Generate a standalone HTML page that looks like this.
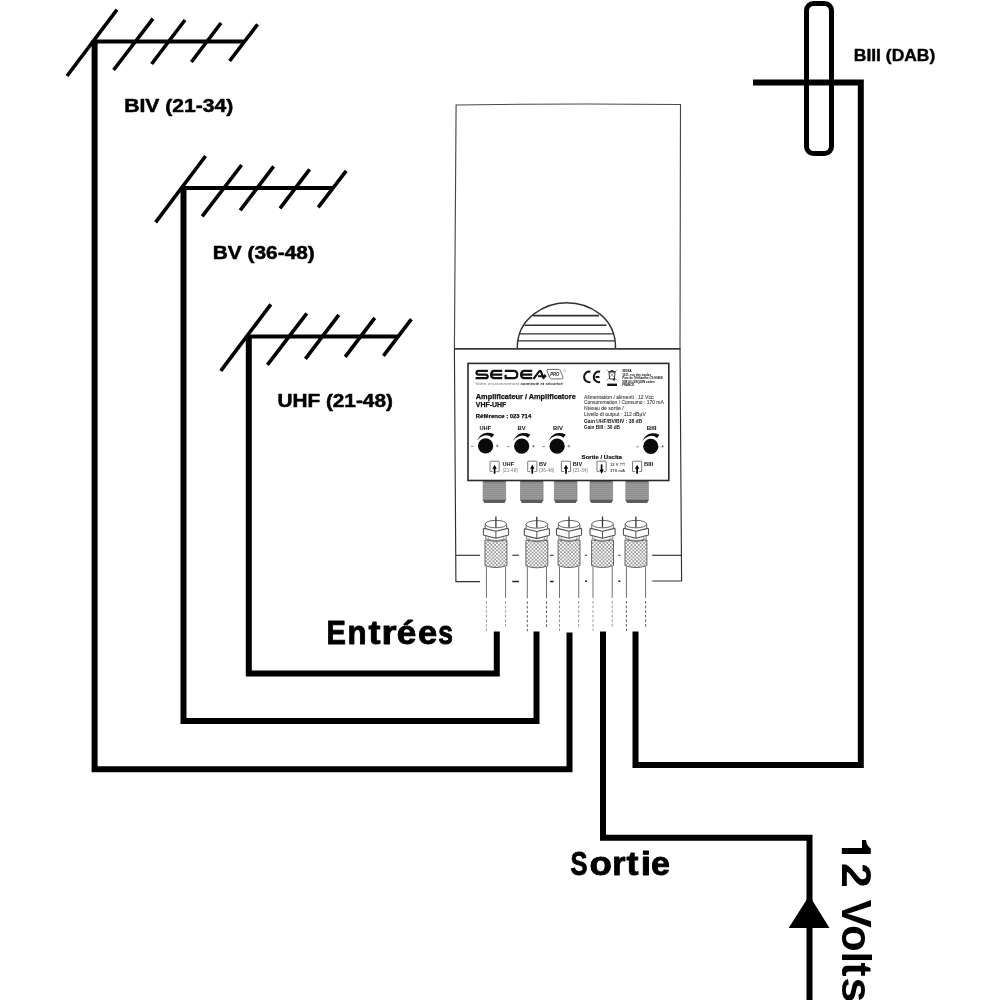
<!DOCTYPE html>
<html>
<head>
<meta charset="utf-8">
<title>Schema amplificateur</title>
<style>
html,body{margin:0;padding:0;background:#fff;}
body{width:1000px;height:1000px;overflow:hidden;font-family:"Liberation Sans",sans-serif;}
svg{will-change:transform;display:block;position:absolute;left:0;top:0;}
text{font-family:"Liberation Sans",sans-serif;}
.b{font-weight:bold;}
</style>
</head>
<body>
<svg width="1000" height="1000" viewBox="0 0 1000 1000">
<defs>
  <!-- antenna (origin = mast/boom junction) -->
  <g id="ant" stroke="#000" fill="none">
    <line x1="-1" y1="0" x2="149" y2="0" stroke-width="4"/>
    <line x1="-27.6" y1="34.4" x2="22.4" y2="-32" stroke-width="3.6"/>
    <line x1="19" y1="28.4" x2="58.4" y2="-23" stroke-width="3.6"/>
    <line x1="57" y1="22.4" x2="90.4" y2="-21.6" stroke-width="3.6"/>
    <line x1="96.8" y1="20.4" x2="126.4" y2="-18.6" stroke-width="3.6"/>
    <line x1="135" y1="19.4" x2="163" y2="-17.2" stroke-width="3.6"/>
  </g>

  <!-- knob: origin = circle centre -->
  <g id="knob">
    <circle cx="0" cy="0" r="7.6" fill="#0a0a0a"/>
    <path d="M-8.6 -5.3 C-6.2 -10.4 -1.8 -13.1 1.6 -13.1 Q5.2 -13.2 8.7 -11.7 L6.3 -8.5 Q3.6 -10.5 0.6 -10.6 C-2.6 -10.5 -6 -8.8 -8.6 -5.3 Z" fill="#0a0a0a"/>
    <path d="M-14.6 0.4 H-12.2" stroke="#777" stroke-width="0.9"/>
    <path d="M10.4 0 H13 M11.7 -1.3 V1.3" stroke="#777" stroke-width="0.9"/>
  </g>
  <!-- connector icon box with up arrow: origin = box top-left -->
  <g id="icoUp">
    <path d="M2.6 10.4 H0.6 Q0 10.4 0 9.8 V0.6 Q0 0 0.6 0 H8.6 Q9.2 0 9.2 0.6 V9.8 Q9.2 10.4 8.6 10.4 H6.6" fill="none" stroke="#444" stroke-width="0.7"/>
    <path d="M4.6 12.5 V6.4" stroke="#000" stroke-width="1.7" fill="none"/>
    <path d="M4.6 3.5 L6.8 7.6 H2.4 Z" fill="#000"/>
  </g>
  <g id="icoDown">
    <path d="M2.6 10.4 H0.6 Q0 10.4 0 9.8 V0.6 Q0 0 0.6 0 H8.6 Q9.2 0 9.2 0.6 V9.8 Q9.2 10.4 8.6 10.4 H6.6" fill="none" stroke="#444" stroke-width="0.7"/>
    <path d="M4.6 3.2 V9.4" stroke="#000" stroke-width="1.7" fill="none"/>
    <path d="M4.6 12.5 L6.8 8.4 H2.4 Z" fill="#000"/>
  </g>
  <!-- thread pattern for F sockets -->
  <pattern id="thread" width="4" height="2" patternUnits="userSpaceOnUse">
    <rect width="4" height="2" fill="#828282"/>
    <rect y="0.8" width="4" height="1" fill="#a8a8a8"/>
  </pattern>
  
  <!-- F socket: origin = top centre -->
  <g id="sock">
    <path d="M-11.3 0 H11.3 V19.4 L9.9 21.8 H-9.9 L-11.3 19.4 Z" fill="url(#thread)"/>
    <path d="M-11.3 0 H11.3 V1 H-11.3 Z" fill="#444"/>
    <path d="M-11.3 18.6 H11.3 V19.4 L9.9 21.8 H-9.9 L-11.3 19.4 Z" fill="#5c5c5c"/>
    <path d="M-11.3 0 V19.4 M11.3 0 V19.4" stroke="#777" stroke-width="0.6" fill="none"/>
  </g>
  <!-- knurl pattern -->
  <pattern id="knurl" width="3.6" height="3.6" patternUnits="userSpaceOnUse" x="0.2" y="0.6">
    <rect width="3.6" height="3.6" fill="#fff"/>
    <rect x="0" y="0" width="1.8" height="1.8" fill="#9c9c9c"/>
    <rect x="1.8" y="1.8" width="1.8" height="1.8" fill="#9c9c9c"/>
  </pattern>
  <!-- F plug: origin = pin x, y=0 at pin top -->
  <g id="plug" fill="none" stroke="#555" stroke-width="0.9">
    <!-- cable -->
    <path d="M-9.5 50.2 V81.5 M9.7 50.2 V81.5" stroke="#707070" stroke-width="1"/>
    <path d="M-9.5 84.5 V114.5 M9.7 84.5 V111.5" stroke="currentColor" stroke-width="0.9" stroke-dasharray="2.6 2"/>
    <!-- knurled sleeve -->
    <path d="M-10.9 23.4 Q0 26.4 11 23.4 V49.1 Q0 53 -10.9 49.1 Z" fill="url(#knurl)" stroke="#666" stroke-width="1"/>
    <!-- ring under nut -->
    <path d="M-10.2 19 V22.2 Q0 25.8 10.3 22.2 V19" fill="#fff" stroke="#666" stroke-width="0.8"/>
    <path d="M-7.6 20 V23.2 M7.7 20 V23.2" stroke="#888" stroke-width="0.6"/>
    <!-- top barrel -->
    <path d="M-10.7 7.6 V12.6 M10.8 7.6 V12.6"/>
    <ellipse cx="0" cy="7.6" rx="10.75" ry="3.75" fill="#fff"/>
    <!-- hex nut -->
    <path d="M-11.8 11.9 Q-12.5 11.8 -12.5 12.6 V17.8 Q-12.5 18.5 -11.8 18.7 L0 21.8 L11.9 18.7 Q12.6 18.5 12.6 17.8 V12.6 Q12.6 11.8 11.9 11.9 L0 14.7 Z" fill="#fff" stroke="#505050" stroke-width="1.1" stroke-linejoin="round"/>
    <path d="M0 14.7 V21.8" stroke="#555" stroke-width="1"/>
    <!-- pin -->
    <path d="M0 0 V10.9" stroke="#333" stroke-width="1.3"/>
  </g>
</defs>

<!-- ===== ANTENNAS ===== -->
<use href="#ant" x="94.6" y="41.6"/>
<use href="#ant" x="183.2" y="188"/>
<use href="#ant" x="248.4" y="336.4"/>

<!-- ===== THICK WIRES ===== -->
<g fill="none" stroke="#000" stroke-width="6" stroke-linejoin="miter">
  <path d="M94.6 40 V769.3 H569.5 V632.5"/>
  <path d="M183.5 186.5 V721 H536.5 V631.5"/>
  <path d="M248.8 335 V673.5 H496.8 V631.5"/>
  <path d="M603 631.5 V837.7 H809.5 V1000"/>
  <path d="M635.5 631.5 V765 H860.8 V82.6 H753"/>
</g>
<!-- arrow -->
<path d="M809.3 895.5 L829.5 928 L788.7 928 Z" fill="#000"/>

<!-- BIII antenna -->
<rect x="806.5" y="3.5" width="25" height="150" rx="7" ry="7" fill="none" stroke="#000" stroke-width="5"/>

<!-- ===== BIG LABELS ===== -->
<g class="b" fill="#000">
  <text x="124.2" y="111.9" stroke="#000" stroke-width="0.5" stroke-linejoin="round" font-size="18" textLength="109" lengthAdjust="spacingAndGlyphs">BIV (21-34)</text>
  <text x="212.8" y="259.4" stroke="#000" stroke-width="0.5" stroke-linejoin="round" font-size="18" textLength="102" lengthAdjust="spacingAndGlyphs">BV (36-48)</text>
  <text x="277.4" y="406.9" stroke="#000" stroke-width="0.5" stroke-linejoin="round" font-size="18" textLength="115.5" lengthAdjust="spacingAndGlyphs">UHF (21-48)</text>
  <text x="853.8" y="61" stroke="#000" stroke-width="0.4" stroke-linejoin="round" font-size="15.8" textLength="81.5" lengthAdjust="spacingAndGlyphs">BIII (DAB)</text>
  <text transform="translate(326.61 644.4) scale(0.888 1)" font-size="32.7" stroke="#000" stroke-width="0.9" stroke-linejoin="round">E</text>
  <text transform="translate(347.59 644.4) scale(0.956 1)" font-size="32.7" stroke="#000" stroke-width="0.9" stroke-linejoin="round">n</text>
  <text transform="translate(368.41 644.4) scale(1.100 1)" font-size="32.7" stroke="#000" stroke-width="0.9" stroke-linejoin="round">t</text>
  <text transform="translate(381.50 644.4) scale(1.181 1)" font-size="32.7" stroke="#000" stroke-width="0.9" stroke-linejoin="round">r</text>
  <text transform="translate(396.77 644.4) scale(1.077 1)" font-size="32.7" stroke="#000" stroke-width="0.9" stroke-linejoin="round">é</text>
  <text transform="translate(417.90 644.4) scale(1.058 1)" font-size="32.7" stroke="#000" stroke-width="0.9" stroke-linejoin="round">e</text>
  <text transform="translate(438.32 644.4) scale(0.809 1)" font-size="32.7" stroke="#000" stroke-width="0.9" stroke-linejoin="round">s</text>
  <text transform="translate(570.51 874.9) scale(0.776 1)" font-size="32.9" stroke="#000" stroke-width="0.9" stroke-linejoin="round">S</text>
  <text transform="translate(589.62 874.9) scale(1.113 1)" font-size="32.9" stroke="#000" stroke-width="0.9" stroke-linejoin="round">o</text>
  <text transform="translate(612.20 874.9) scale(1.036 1)" font-size="32.9" stroke="#000" stroke-width="0.9" stroke-linejoin="round">r</text>
  <text transform="translate(626.61 874.9) scale(1.093 1)" font-size="32.9" stroke="#000" stroke-width="0.9" stroke-linejoin="round">t</text>
  <text transform="translate(640.65 874.9) scale(1.130 1)" font-size="32.9" stroke="#000" stroke-width="0.9" stroke-linejoin="round">i</text>
  <text transform="translate(650.92 874.9) scale(1.039 1)" font-size="32.9" stroke="#000" stroke-width="0.9" stroke-linejoin="round">e</text>
  <path d="M862 840 H866 Q866.6 846 870.8 848.4 V854 H841.8 V848 H862 Z" fill="#000"/>
  <text transform="translate(841.8 862.95) rotate(90) scale(1.058 1)" font-size="42.2">2</text>
  <text transform="translate(841.8 899.71) rotate(90) scale(0.997 1)" font-size="42.2">V</text>
  <text transform="translate(841.8 925.10) rotate(90) scale(1.032 1)" font-size="42.2">o</text>
  <text transform="translate(841.8 951.70) rotate(90) scale(0.950 0.945)" font-size="42.2">l</text>
  <text transform="translate(841.8 962.49) rotate(90) scale(0.998 1)" font-size="42.2">t</text>
  <text transform="translate(841.8 977.42) rotate(90) scale(1.066 1)" font-size="42.2">s</text>
</g>

<!-- ===== DEVICE ===== -->
<g id="device" fill="none" stroke="#303030" stroke-width="1.15">
  <!-- upper cover -->
  <path d="M454.4 348.9 L456.1 105 Q568 103.2 680.5 104.5 L680 348.9" stroke="#484848"/>
  <!-- divider -->
  <path d="M454 348.9 H680.6" stroke-width="1.6" stroke="#3a3a3a"/>
  <!-- lower body sides -->
  <path d="M454.4 348.9 L455.9 581.6 H480.1"/>
  <path d="M455.8 555.3 H480.1"/>
  <path d="M680 348.9 L681.6 581 H652.2"/>
  <path d="M681.4 555.3 H652.2"/>
  <!-- dome -->
  <path d="M517.3 348 C517 318 545 302.7 566.5 302.7 C590 302.7 616 318 615.5 348" stroke-width="1.4"/>
  <path d="M533 315.7 H599" stroke-width="1.8"/>
  <path d="M524.5 325.3 H606.4" stroke-width="1.6"/>
  <path d="M519.3 333.9 H612.9" stroke-width="1.2"/>
  <path d="M517.5 340.9 H614.7" stroke-width="1.2"/>
</g>

<!-- label panel -->
<rect x="468" y="363.4" width="200.8" height="117.1" fill="#fff" stroke="#2a2a2a" stroke-width="1.6"/>

<!-- ===== LABEL CONTENT ===== -->
<g id="labelcontent">
  <!-- SEDEA logo -->
  <g fill="none" stroke="#111" stroke-width="2.2" stroke-linejoin="round">
    <path d="M487.9 370.9 H478.7 Q476.5 370.9 476.5 372.75 Q476.5 374.55 478.7 374.55 H485.4 Q487.7 374.55 487.7 376.4 Q487.7 378.2 485.4 378.2 H475.6"/>
    <path d="M502.2 370.9 H494.4 Q491.1 370.9 491.1 374.55 Q491.1 378.2 494.4 378.2 H502.2 M491.4 374.55 H502.2"/>
    <path d="M504.8 370.9 H513.6 Q517.3 370.9 517.3 374.55 Q517.3 378.2 513.6 378.2 H505.6 V374.8"/>
    <path d="M532.2 370.9 H524.4 Q521.1 370.9 521.1 374.55 Q521.1 378.2 524.4 378.2 H532.2 M521.4 374.55 H532.2"/>
    <path d="M533.4 379 L539.4 371.2 Q540.4 370.3 541 371.6 L543.9 379 M538 376.2 H546.2" stroke-width="2.1"/>
    <path d="M544.7 374.2 V377.8" stroke-width="1.2"/>
  </g>
  <!-- PRO badge -->
  <path d="M548.2 369.4 H558.6 Q559.8 369.4 560.3 370.5 L562.9 377.3 Q563.4 378.9 561.8 378.9 H551.6 Q550.3 378.9 549.8 377.7 L547 371 Q546.5 369.4 548.2 369.4 Z" fill="none" stroke="#333" stroke-width="0.7"/>
  <text x="550.2" y="376.3" font-size="4.8" font-weight="bold" font-style="italic" fill="#222" textLength="9.2" lengthAdjust="spacingAndGlyphs">PRO</text>
  <circle cx="564.6" cy="370.6" r="1" fill="none" stroke="#777" stroke-width="0.4"/>
  <!-- tagline -->
  <text x="475.4" y="385.2" font-size="4.2" fill="#777" textLength="44" lengthAdjust="spacingAndGlyphs">Votre environnement</text>
  <text x="520.4" y="385.2" font-size="4.2" font-weight="bold" fill="#222" textLength="42.4" lengthAdjust="spacingAndGlyphs">connecté et sécurisé</text>

  <!-- CE mark -->
  <g fill="none" stroke="#111" stroke-width="2">
    <path d="M590.4 371.7 A5.3 5.3 0 1 0 590.4 382.1"/>
    <path d="M600.1 371.7 A5.3 5.3 0 1 0 600.1 382.1 M595.6 376.9 H599.4"/>
  </g>
  <!-- WEEE bin -->
  <g fill="none" stroke="#222" stroke-width="0.9">
    <path d="M606.4 369.4 L617.4 380.6 M617.4 369.4 L606.4 380.6" stroke="#666" stroke-width="0.6"/>
    <path d="M609 372 H615 L614.4 379 H609.6 Z"/>
    <path d="M608.4 371.6 H615.6 M610.6 370.6 H613.4"/>
    <circle cx="614" cy="379.6" r="0.8"/>
  </g>
  <rect x="607.2" y="383.6" width="9.8" height="2.4" fill="#111"/>
  <!-- address -->
  <g font-size="3.4" font-weight="bold" fill="#111">
    <text x="622.2" y="372.4" textLength="10" lengthAdjust="spacingAndGlyphs">SEDEA,</text>
    <text x="622.2" y="375.8" textLength="29" lengthAdjust="spacingAndGlyphs">1011, rue des saules</text>
    <text x="622.2" y="379.2" textLength="40.4" lengthAdjust="spacingAndGlyphs">Parc de l'Hélianthe CS 80458</text>
    <text x="622.2" y="382.6" textLength="32.6" lengthAdjust="spacingAndGlyphs">59814 LESQUIN cedex</text>
    <text x="622.2" y="386" textLength="12" lengthAdjust="spacingAndGlyphs">FRANCE</text>
  </g>

  <!-- titles -->
  <g font-weight="bold" fill="#111" stroke="#111" stroke-width="0.25">
    <text x="475.8" y="398.8" font-size="6.9" textLength="100" lengthAdjust="spacingAndGlyphs">Amplificateur / Amplificatore</text>
    <text x="475.8" y="406.9" font-size="6.9" textLength="30.4" lengthAdjust="spacingAndGlyphs">VHF-UHF</text>
    <text x="475.8" y="417.6" font-size="6.2" textLength="55.4" lengthAdjust="spacingAndGlyphs">Référence : 023 714</text>
  </g>
  <!-- specs -->
  <g font-size="5.4" fill="#444" stroke="#444" stroke-width="0.1">
    <text x="584" y="398.7" textLength="69.6" lengthAdjust="spacingAndGlyphs">Alimentation / alimenti : 12 Vcc</text>
    <text x="584" y="404.4" textLength="79.8" lengthAdjust="spacingAndGlyphs">Consommation / Consumo : 170 mA</text>
    <text x="584" y="410.1" textLength="39.6" lengthAdjust="spacingAndGlyphs">Niveau de sortie /</text>
    <text x="584" y="416.3" textLength="61.8" lengthAdjust="spacingAndGlyphs">Livello di output : 112 dBµV</text>
    <text x="584" y="422.5" font-size="5" font-weight="bold" fill="#111" stroke="none" textLength="58.2" lengthAdjust="spacingAndGlyphs">Gain UHF/BV/BIV : 38 dB</text>
    <text x="584" y="428.6" font-size="5" font-weight="bold" fill="#111" stroke="none" textLength="36" lengthAdjust="spacingAndGlyphs">Gain BIII : 30 dB</text>
  </g>

  <!-- knob labels -->
  <g font-size="5.6" font-weight="bold" fill="#111">
    <text x="479.4" y="430.1" textLength="11.8" lengthAdjust="spacingAndGlyphs">UHF</text>
    <text x="517.4" y="430.1" textLength="8.2" lengthAdjust="spacingAndGlyphs">BV</text>
    <text x="553" y="430.1" textLength="9.8" lengthAdjust="spacingAndGlyphs">BIV</text>
    <text x="646.8" y="430.1" textLength="9.8" lengthAdjust="spacingAndGlyphs">BIII</text>
  </g>
</g>

<!-- knobs -->
<use href="#knob" x="485.6" y="445.9"/>
<use href="#knob" x="521.7" y="446.2"/>
<use href="#knob" x="557.1" y="446.2"/>
<use href="#knob" x="650.8" y="446.4"/>

<!-- Sortie / Uscita + icon row -->
<text x="581.6" y="458.9" font-size="6.2" font-weight="bold" fill="#111" stroke="#111" stroke-width="0.2" textLength="40.4" lengthAdjust="spacingAndGlyphs">Sortie / Uscita</text>
<use href="#icoUp" x="490" y="461.2"/>
<use href="#icoUp" x="527.7" y="461.2"/>
<use href="#icoUp" x="561.4" y="461.2"/>
<use href="#icoDown" x="597" y="461.2"/>
<use href="#icoUp" x="632.5" y="461.2"/>
<g font-size="5.3" font-weight="bold" fill="#111">
  <text x="502.5" y="466.1" textLength="11.6" lengthAdjust="spacingAndGlyphs">UHF</text>
  <text x="539" y="466.1" textLength="7.6" lengthAdjust="spacingAndGlyphs">BV</text>
  <text x="572.8" y="466.1" textLength="9.4" lengthAdjust="spacingAndGlyphs">BIV</text>
  <text x="644" y="466.1" textLength="9" lengthAdjust="spacingAndGlyphs">BIII</text>
</g>
<g font-size="4.6" fill="#7a7a7a">
  <text x="502.5" y="472.3" textLength="15.4" lengthAdjust="spacingAndGlyphs">(21-48)</text>
  <text x="539" y="472.3" textLength="15.4" lengthAdjust="spacingAndGlyphs">(36-48)</text>
  <text x="572.8" y="472.3" textLength="15.4" lengthAdjust="spacingAndGlyphs">(21-34)</text>
</g>
<g font-size="4.1" font-weight="bold" fill="#444">
  <text x="610" y="466" textLength="8.6" lengthAdjust="spacingAndGlyphs">12 V</text>
  <text x="610" y="471.6" textLength="15" lengthAdjust="spacingAndGlyphs">170 mA</text>
</g>
<path d="M620 463.4 H625 M620 465 H621.2 M621.9 465 H623.1 M623.8 465 H625" stroke="#444" stroke-width="0.6" fill="none"/>

<!-- F sockets -->
<use href="#sock" x="494.4" y="481.2"/>
<use href="#sock" x="531.8" y="481.2"/>
<use href="#sock" x="565.7" y="481.2"/>
<use href="#sock" x="601.3" y="481.2"/>
<use href="#sock" x="637.1" y="481.2"/>

<!-- F plugs -->
<use href="#plug" x="495.9" y="516.5" color="#8c8c8c"/>
<use href="#plug" x="536.8" y="516.8" color="#4a4a4a"/>
<use href="#plug" x="569" y="516.5" color="#808080"/>
<use href="#plug" x="602.5" y="516.5" color="#8c8c8c"/>
<use href="#plug" x="635.9" y="516.5" color="#4a4a4a"/>

<!-- body edge dashes between plugs -->
<g stroke="#222" fill="none">
  <path d="M512.3 555.3 H518.9 M550.1 555.3 H553.6 M585.1 555.3 H587.1 M618.3 555.3 H620.4" stroke-width="1.1"/>
  <path d="M512.3 581.5 H518.9 M550.1 581.5 H553.6 M585.1 581.3 H587.1 M618.3 581.2 H620.4" stroke-width="1.5"/>
</g>

</svg>
</body>
</html>
